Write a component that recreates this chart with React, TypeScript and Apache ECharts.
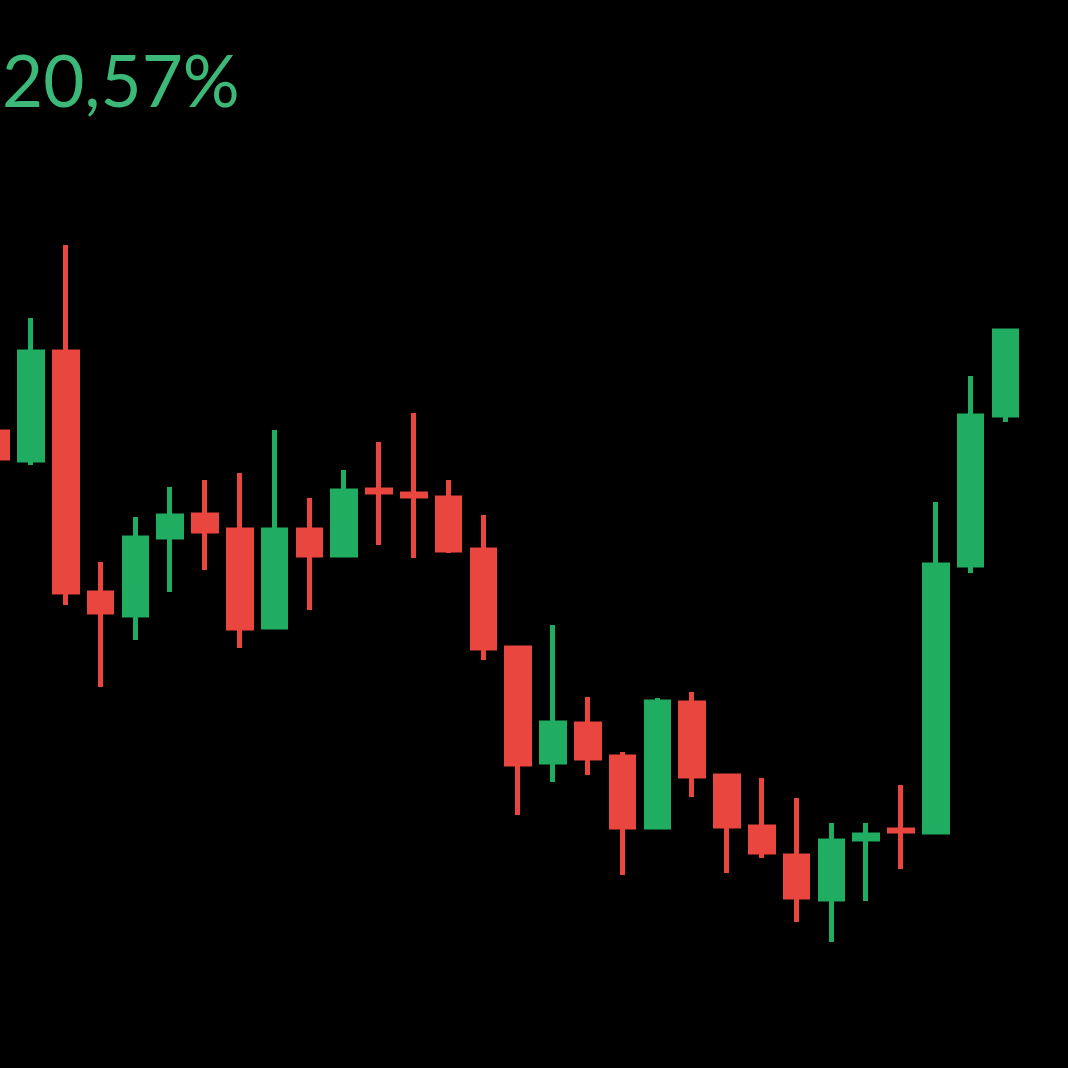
import React, { useEffect, useRef } from "react";
import * as echarts from "echarts";

// One entry per candle: [open, close, low, high]
const categories: string[] = Array.from({ length: 31 }, (_, i) => `D${i + 1}`);

const opens: number[] = [63.6, 60.8, 71.6, 47.5, 45.3, 53.1, 55.3, 53.8, 44.1, 53.8, 51.3, 57.8, 57.4, 57.0, 51.8, 42.0, 30.6, 34.4, 31.1, 24.1, 36.5, 29.2, 24.1, 21.2, 16.9, 22.9, 23.8, 23.6, 50.3, 65.3];
const closes: number[] = [61.0, 71.6, 47.6, 45.6, 53.0, 55.2, 53.7, 44.0, 53.8, 51.3, 57.7, 57.6, 57.2, 51.8, 42.0, 30.4, 34.5, 31.0, 24.1, 36.6, 29.2, 24.2, 21.6, 17.1, 22.7, 23.3, 23.7, 50.3, 65.2, 73.7];
const lows: number[] = [56.1, 60.3, 46.3, 38.1, 42.8, 47.6, 49.8, 42.0, 44.1, 45.8, 51.1, 52.3, 51.0, 51.5, 40.8, 25.3, 28.6, 29.3, 19.3, 24.1, 27.1, 19.5, 21.0, 14.6, 12.6, 16.7, 19.9, 23.6, 49.5, 64.6];
const highs: number[] = [67.5, 75.0, 82.3, 50.6, 55.1, 58.1, 58.8, 59.5, 63.8, 57.0, 59.8, 62.6, 65.5, 58.8, 55.3, 42.0, 44.3, 37.1, 31.6, 37.0, 37.6, 29.2, 29.0, 27.0, 24.5, 24.5, 28.3, 56.6, 69.2, 73.7];

const headline = "20,57%";

const UP = "#20ad62";
const DOWN = "#e9463f";

export default function App() {
  const ref = useRef<HTMLDivElement>(null);

  useEffect(() => {
    if (!ref.current) return;
    const chart = echarts.init(ref.current, undefined, { renderer: "svg" });
    const data = opens.map((o, i) => [o, closes[i], lows[i], highs[i]]);
    chart.setOption({
      animation: false,
      backgroundColor: "#000000",
      grid: {
        left: -21.2,
        right: 10.4,
        top: 0,
        bottom: 0,
        outerBoundsMode: "none",
      },
      xAxis: {
        type: "category",
        data: categories,
        boundaryGap: true,
        show: false,
      },
      yAxis: {
        type: "value",
        min: 0,
        max: 106.8,
        show: false,
        splitLine: { show: false },
      },
      series: [
        {
          type: "candlestick",
          data,
          barWidth: 23,
          itemStyle: {
            color: UP,
            color0: DOWN,
            borderColor: UP,
            borderColor0: DOWN,
            borderWidth: 5,
          },
        },
      ],
      graphic: [
        {
          type: "text",
          x: 2,
          y: 79,
          style: {
            text: headline,
            fill: "#3cb878",
            font: "normal 71px Lato",
            verticalAlign: "middle",
            align: "left",
          },
        },
      ],
    });
    return () => chart.dispose();
  }, []);

  return (
    <div
      ref={ref}
      style={{ position: "absolute", left: 0, top: 0, width: 1068, height: 1068, background: "#000" }}
    />
  );
}
